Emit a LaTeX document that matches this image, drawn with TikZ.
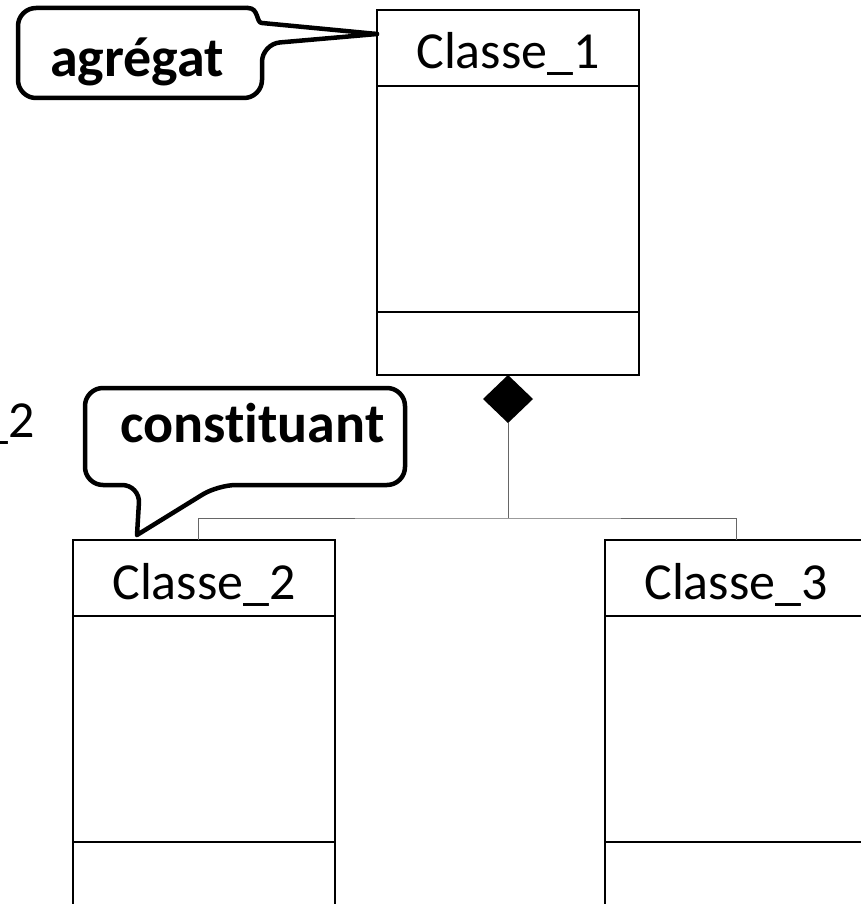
\documentclass[tikz,border=0pt]{standalone}
\usepackage{fontspec}
\setmainfont{Carlito}[Ligatures={NoCommon,NoRequired,NoContextual}]
\usetikzlibrary{positioning,shapes.geometric}
\tikzstyle{head}=[draw, line width=1.5pt, minimum width=262pt, minimum height=76pt, inner sep=0pt, outer sep=0pt, text height=42pt, text depth=0pt, font=\fontsize{52}{60}\selectfont]
\tikzstyle{comp}=[draw, line width=1.5pt, minimum width=262pt, inner sep=0pt, outer sep=0pt]
\tikzstyle{link}=[black!60, line width=1pt]
\tikzstyle{agg}=[diamond, fill=black, minimum width=50pt, minimum height=48pt, inner sep=0pt, outer sep=0pt]
\tikzstyle{bubframe}=[inner sep=0pt, outer sep=0pt]
\tikzstyle{bubtext}=[inner sep=0pt, anchor=base west, font=\fontsize{56}{64}\selectfont\bfseries]
\tikzstyle{bubble}=[line width=4.5pt, line cap=round, line join=round]
\newcommand{\classbox}[3]{
  \node[head] (#1h) at (#2) {#3};
  \node[comp, minimum height=226pt, below=0 of #1h] (#1b) {};
  \node[comp, minimum height=63pt, below=0 of #1b] (#1f) {};
}

\begin{document}
\begin{tikzpicture}[x=1pt, y=-1pt]
    \useasboundingbox (0,0) rectangle (860,904);
    \classbox{c1}{508,48}{Classe\_1}
    \classbox{c2}{204,578}{Classe\_2}
    \classbox{c3}{736,578}{Classe\_3}
    \node[font=\fontsize{52}{60}\selectfont, anchor=base east, inner sep=0pt] (frag) at (35,437) {\_2};
    % composition
    \node[agg, anchor=north] (dia) at (c1f.south) {};
    \coordinate (join) at ([yshift=-95pt]dia.south);
    \draw[link] (dia.south) -- (join);
    \draw[link] ([xshift=-6pt]c2h.north) |- (join) -| (c3h.north);
    % callouts
    \node[bubframe, minimum width=244pt, minimum height=90pt] (agrf) at (140,53) {};
    \node[bubtext] (agr) at (50,77) {agrégat};
    \coordinate (agrtip) at ([yshift=14pt]c1h.west);
    \coordinate (agrtop) at ([xshift=-14pt]agrf.north east);
    \draw[bubble, rounded corners=18pt] (agrtip) -- ([yshift=-36pt]agrf.north east) -- (agrf.south east)
      -- (agrf.south west) -- (agrf.north west) -- (agrtop);
    \draw[bubble] (agrtop) .. controls ([xshift=-3pt]agrf.north east) and ([xshift=-6pt, yshift=-15pt]agrf.north east)
      .. ([yshift=-15pt]agrf.north east) -- (agrtip);
    \node[bubframe, minimum width=320pt, minimum height=97pt] (cstf) at (245,436.5) {};
    \node[bubtext] (cst) at (120,442) {constituant};
    \coordinate (csttip) at ([xshift=-67pt, yshift=5pt]c2h.north);
    \draw[bubble, rounded corners=18pt] (csttip) -- ([xshift=55pt]cstf.south west) -- (cstf.south west)
      -- (cstf.north west) -- (cstf.north east) -- (cstf.south east)
      -- ([xshift=133pt]cstf.south west) -- (csttip);
\end{tikzpicture}
\end{document}
